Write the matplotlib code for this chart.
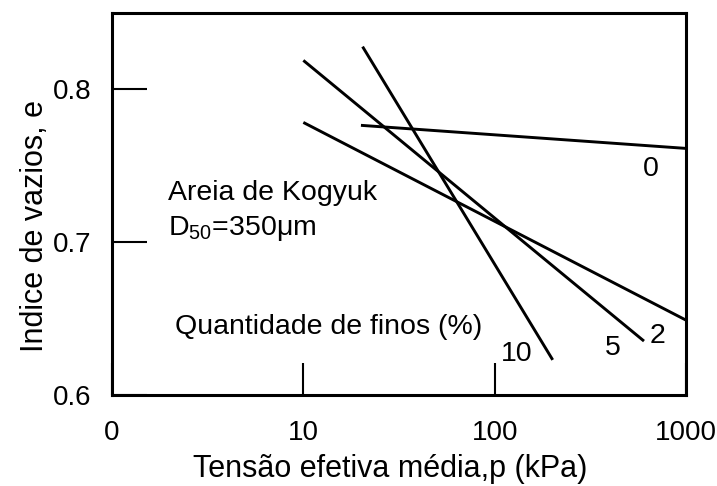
import numpy as np
import matplotlib
matplotlib.use("Agg")
import matplotlib.pyplot as plt
from matplotlib.ticker import FixedLocator, FixedFormatter, NullLocator

plt.rcParams['font.family'] = ['Liberation Sans', 'DejaVu Sans']
plt.rcParams['mathtext.fontset'] = 'custom'
plt.rcParams['mathtext.rm'] = 'Liberation Sans'

# linhas e-log(p): (p inicial, p final), (e inicial, e final)
finos = ["0", "2", "5", "10"]
p_ini = [20, 10, 10, 20.4]
p_fim = [1000, 1000, 603, 201]
e_ini = [0.7765, 0.7784, 0.819, 0.828]
e_fim = [0.7614, 0.649, 0.6353, 0.623]

# posicao dos rotulos de cada linha
rot_p = [656, 713, 415, 131]
rot_e = [0.748, 0.6386, 0.6307, 0.6267]

xticks = [1, 10, 100, 1000]
xlabels = ["0", "10", "100", "1000"]
yticks = [0.6, 0.7, 0.8]
ylabels = ["0.6", "0.7", "0.8"]

fig = plt.figure(figsize=(7.17, 4.86), dpi=100)
ax = fig.add_axes([0.1562, 0.1872, 0.8006, 0.786])
ax.set_xscale('log')
ax.set_xlim(1, 1000)
ax.set_ylim(0.6, 0.85)

for i in range(len(finos)):
    ax.plot([p_ini[i], p_fim[i]], [e_ini[i], e_fim[i]], color='black', lw=2.1,
            solid_capstyle='butt', clip_on=False)
    ax.text(rot_p[i], rot_e[i], finos[i], fontsize=20.5, ha='center', va='center')

ax.text(2.14, 0.6444, "Quantidade de finos (%)", fontsize=20.5, ha='left', va='center')
ax.text(1.96, 0.732, "Areia de Kogyuk", fontsize=20.5, ha='left', va='center')
ax.text(1.96, 0.709, r"D$_{\mathrm{50}}$=350μm", fontsize=20.5, ha='left', va='center')

ax.xaxis.set_major_locator(FixedLocator(xticks))
ax.xaxis.set_major_formatter(FixedFormatter(xlabels))
ax.xaxis.set_minor_locator(NullLocator())
ax.set_yticks(yticks)
ax.set_yticklabels(ylabels)
ax.tick_params(axis='x', direction='in', length=23, width=1.5, pad=18, labelsize=20)
ax.tick_params(axis='y', direction='in', length=25, width=1.5, pad=15, labelsize=20)

for s in ax.spines.values():
    s.set_linewidth(2.2)

fig.text(390 / 717, 1 - 469 / 486, "Tensão efetiva média,p (kPa)", fontsize=22,
         ha='center', va='center')
fig.text(35 / 717, 1 - 226 / 486, "Indice de vazios, e", fontsize=22,
         ha='center', va='center', rotation=90)

fig.savefig("out.png", dpi=100)
